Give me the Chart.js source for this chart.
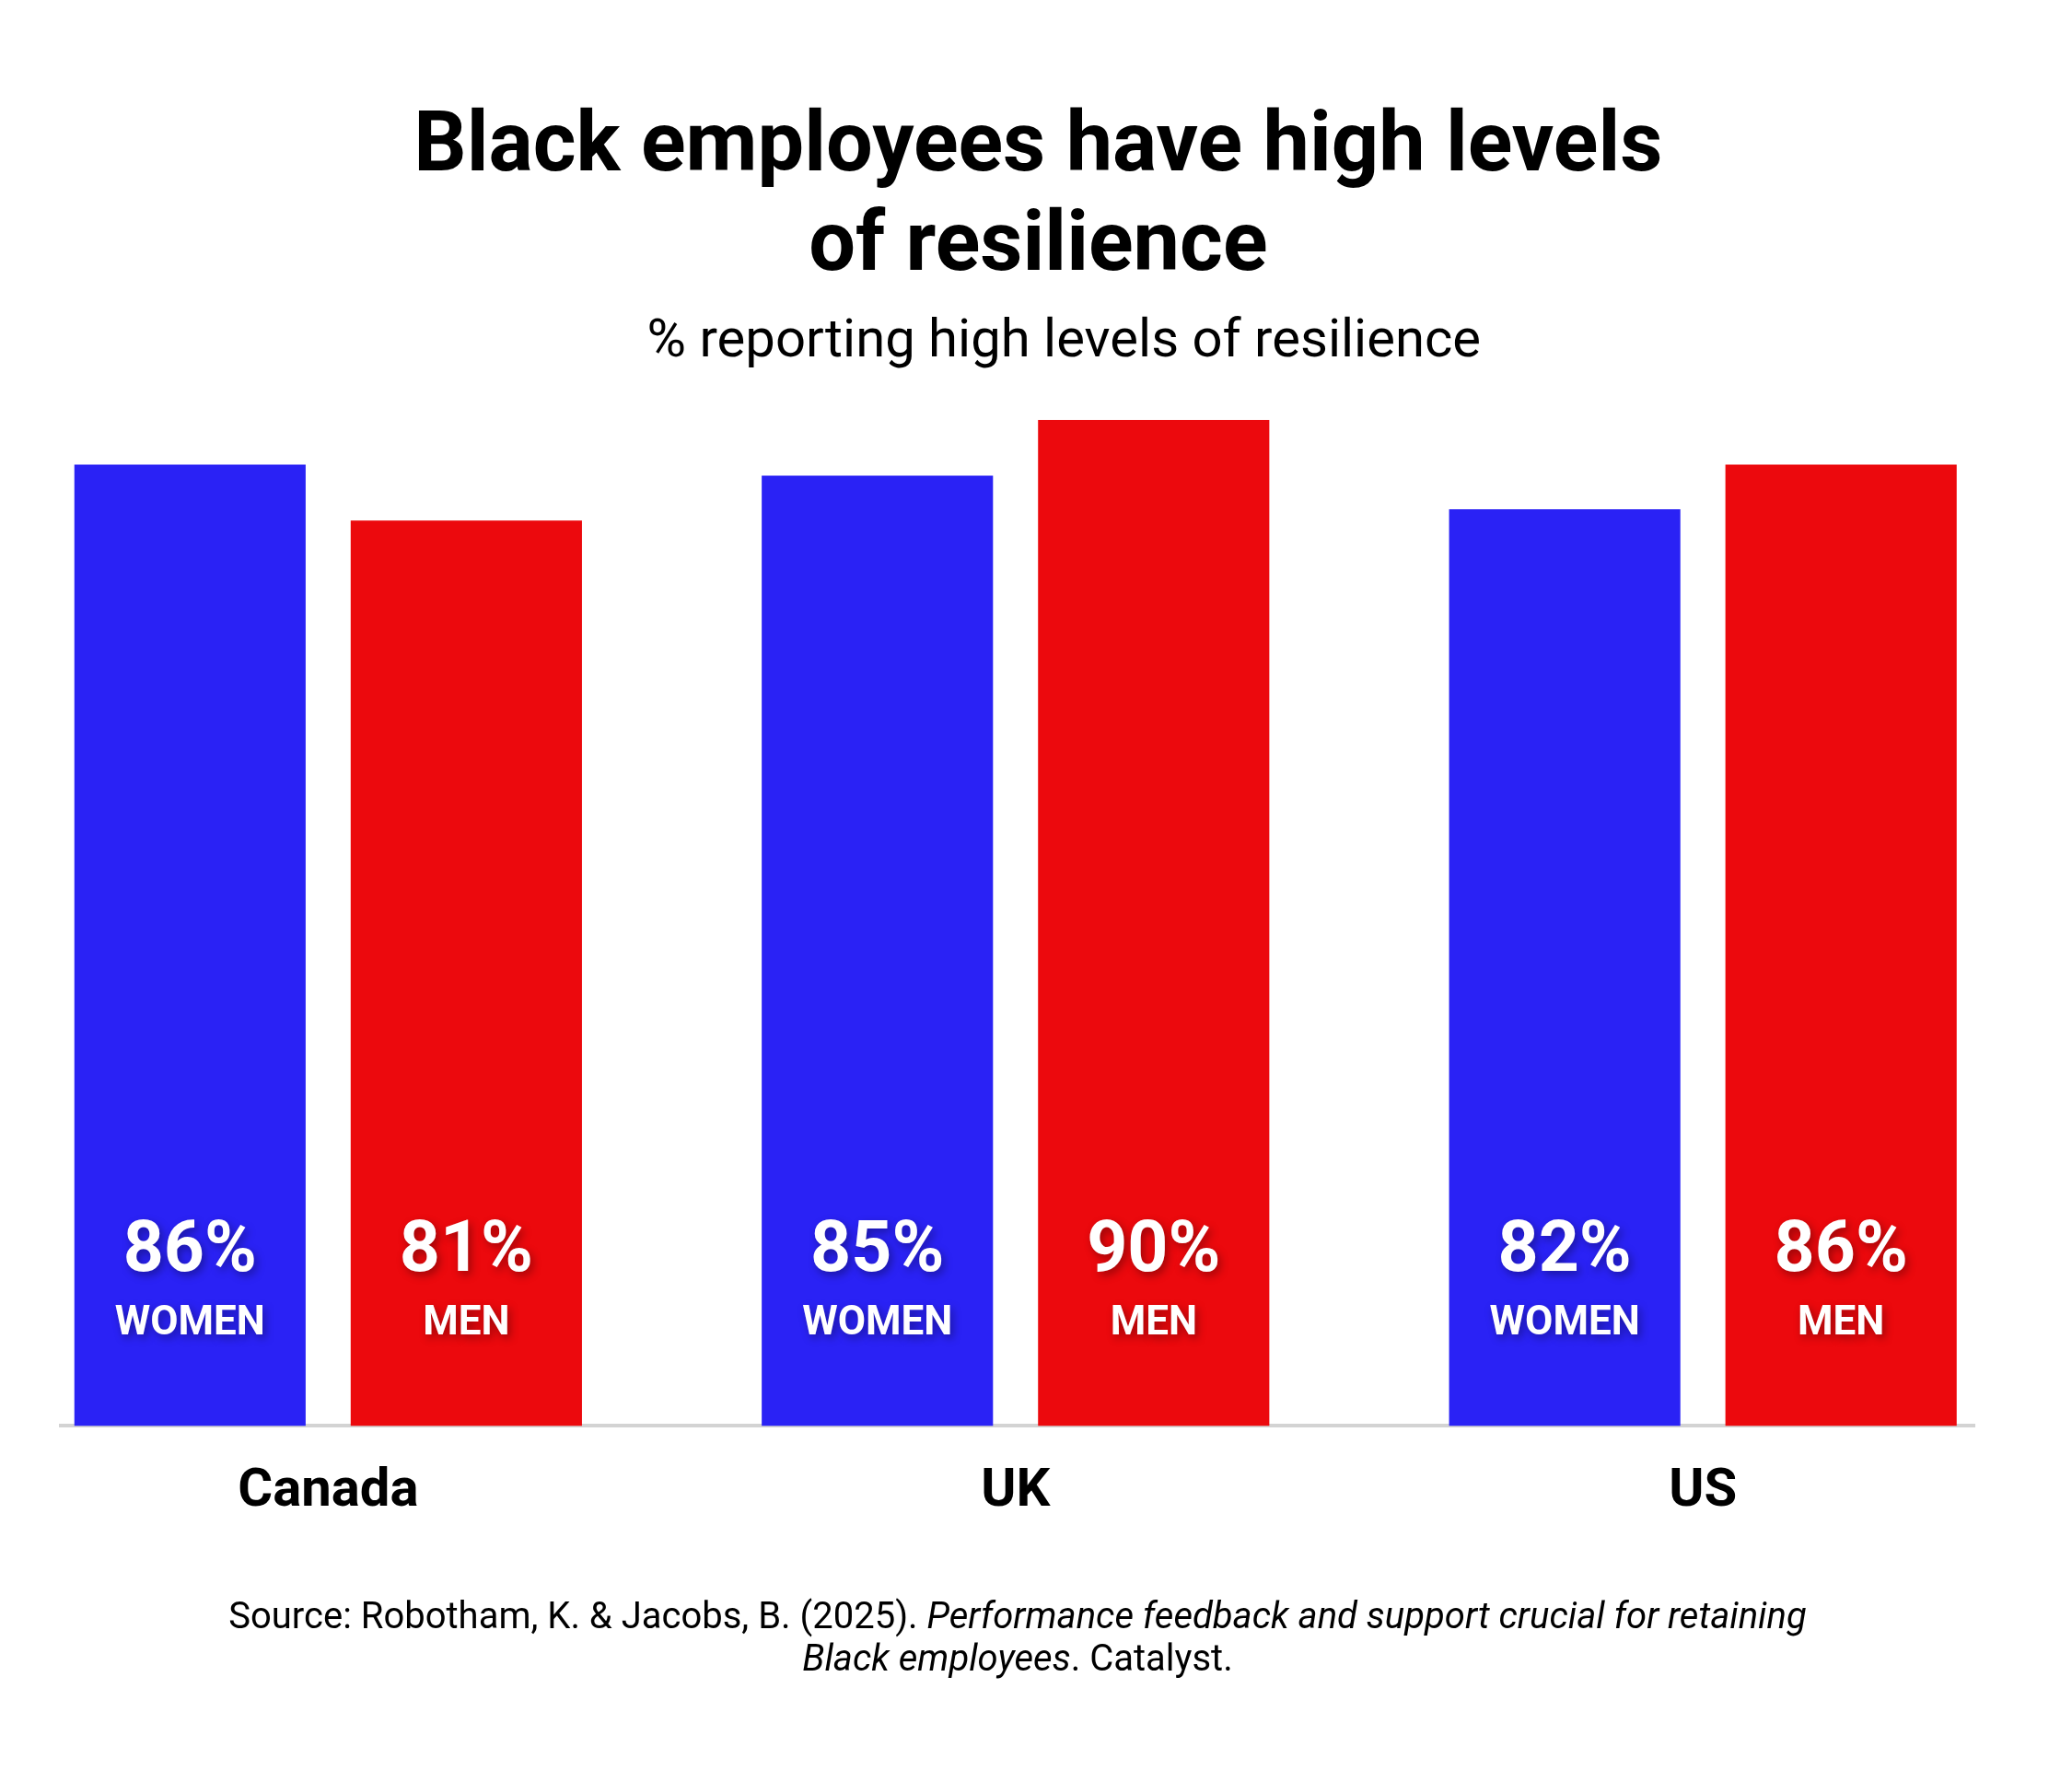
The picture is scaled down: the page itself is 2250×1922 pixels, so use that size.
<!DOCTYPE html>
<html>
<head>
<meta charset="utf-8">
<script src="https://cdn.jsdelivr.net/npm/chart.js@4.4.1/dist/chart.umd.min.js"></script>
<style>
  html, body { margin: 0; padding: 0; background: #fff; }
  canvas { display: block; }
</style>
</head>
<body>
<canvas id="resilienceChart" width="2250" height="1922"></canvas>
<script>
const categories = ['Canada', 'UK', 'US'];
const women = [86, 85, 82];
const men = [81, 90, 86];
const seriesLabels = ['WOMEN', 'MEN'];

// leading spaces nudge the centred titles over to the page centre
const titleLines = ['  Black employees have high levels', '  of resilience'];
const subtitleText = '       % reporting high levels of resilience';
const sourceLines = [
    [['Source: Robotham, K. & Jacobs, B. (2025). ', false], ['Performance feedback and support crucial for retaining', true]],
    [['Black employees', true], ['. Catalyst.', false]]
];

const BLUE = '#2a22f5';
const RED = '#ec090d';

Chart.defaults.font.family = 'Roboto, "Noto Sans", sans-serif';
Chart.defaults.color = '#000';

// value + series name written inside each bar, near its foot
const barLabels = {
    id: 'barLabels',
    afterDatasetsDraw(chart) {
        const ctx = chart.ctx;
        ctx.save();
        ctx.textAlign = 'center';
        ctx.textBaseline = 'alphabetic';
        ctx.fillStyle = '#fff';
        ctx.shadowColor = 'rgba(0,0,0,0.35)';
        ctx.shadowBlur = 10;
        ctx.shadowOffsetX = 3;
        ctx.shadowOffsetY = 4;
        chart.data.datasets.forEach((ds, di) => {
            chart.getDatasetMeta(di).data.forEach((bar, i) => {
                ctx.font = 'bold 77px Roboto';
                ctx.fillText(ds.data[i].y + '%', bar.x, bar.base - 168);
                ctx.font = 'bold 44px Roboto';
                ctx.fillText(seriesLabels[di], bar.x, bar.base - 99);
            });
        });
        ctx.restore();
    }
};

// source note with italic title, centred under the plot
const sourceNote = {
    id: 'sourceNote',
    afterDraw(chart) {
        const ctx = chart.ctx;
        const cx = (chart.chartArea.left + chart.chartArea.right) / 2;
        const size = 40;
        ctx.save();
        ctx.fillStyle = '#000';
        ctx.textBaseline = 'alphabetic';
        ctx.textAlign = 'left';
        sourceLines.forEach((parts, li) => {
            let total = 0;
            parts.forEach(p => {
                ctx.font = (p[1] ? 'italic ' : '') + size + 'px Roboto';
                total += ctx.measureText(p[0]).width;
            });
            let x = cx - total / 2;
            const y = chart.height - 154 + li * 46;
            parts.forEach(p => {
                ctx.font = (p[1] ? 'italic ' : '') + size + 'px Roboto';
                ctx.fillText(p[0], x, y);
                x += ctx.measureText(p[0]).width;
            });
        });
        ctx.restore();
    }
};

const data = {
    datasets: [{
        label: seriesLabels[0],
        data: women.map((v, i) => ({ x: i, y: v })),
        backgroundColor: BLUE,
        borderWidth: 0
    }, {
        label: seriesLabels[1],
        data: men.map((v, i) => ({ x: i, y: v })),
        backgroundColor: RED,
        borderWidth: 0
    }]
};

const config = {
    type: 'bar',
    data,
    options: {
        responsive: false,
        animation: false,
        categoryPercentage: 0.804,
        barPercentage: 0.837,
        layout: {
            padding: { left: 66, right: 106, top: 0, bottom: 230 }
        },
        scales: {
            x: {
                type: 'linear',
                offset: false,
                min: -0.389,
                max: 2.395,
                grid: { display: false, drawTicks: false, offset: false },
                border: { display: true, color: '#d3d3d3', width: 4 },
                ticks: {
                    stepSize: 1,
                    includeBounds: false,
                    autoSkip: false,
                    maxRotation: 0,
                    padding: 37,
                    color: '#000',
                    font: { size: 58, weight: 'bold' },
                    callback: (v) => categories[v] !== undefined && Number.isInteger(v) ? categories[v] : ''
                }
            },
            y: {
                display: false,
                min: 0,
                max: 92
            }
        },
        plugins: {
            legend: { display: false },
            tooltip: { enabled: false },
            title: {
                display: true,
                text: titleLines,
                color: '#000',
                font: { size: 90, weight: 'bold', lineHeight: 1.2 },
                padding: { top: 108, bottom: 6 }
            },
            subtitle: {
                display: true,
                text: subtitleText,
                color: '#000',
                font: { size: 58, weight: 'normal', lineHeight: 1.2 },
                padding: { top: 8, bottom: 24 }
            }
        }
    },
    plugins: [barLabels, sourceNote]
};

const resilienceChart = new Chart(document.getElementById('resilienceChart'), config);
</script>
</body>
</html>
